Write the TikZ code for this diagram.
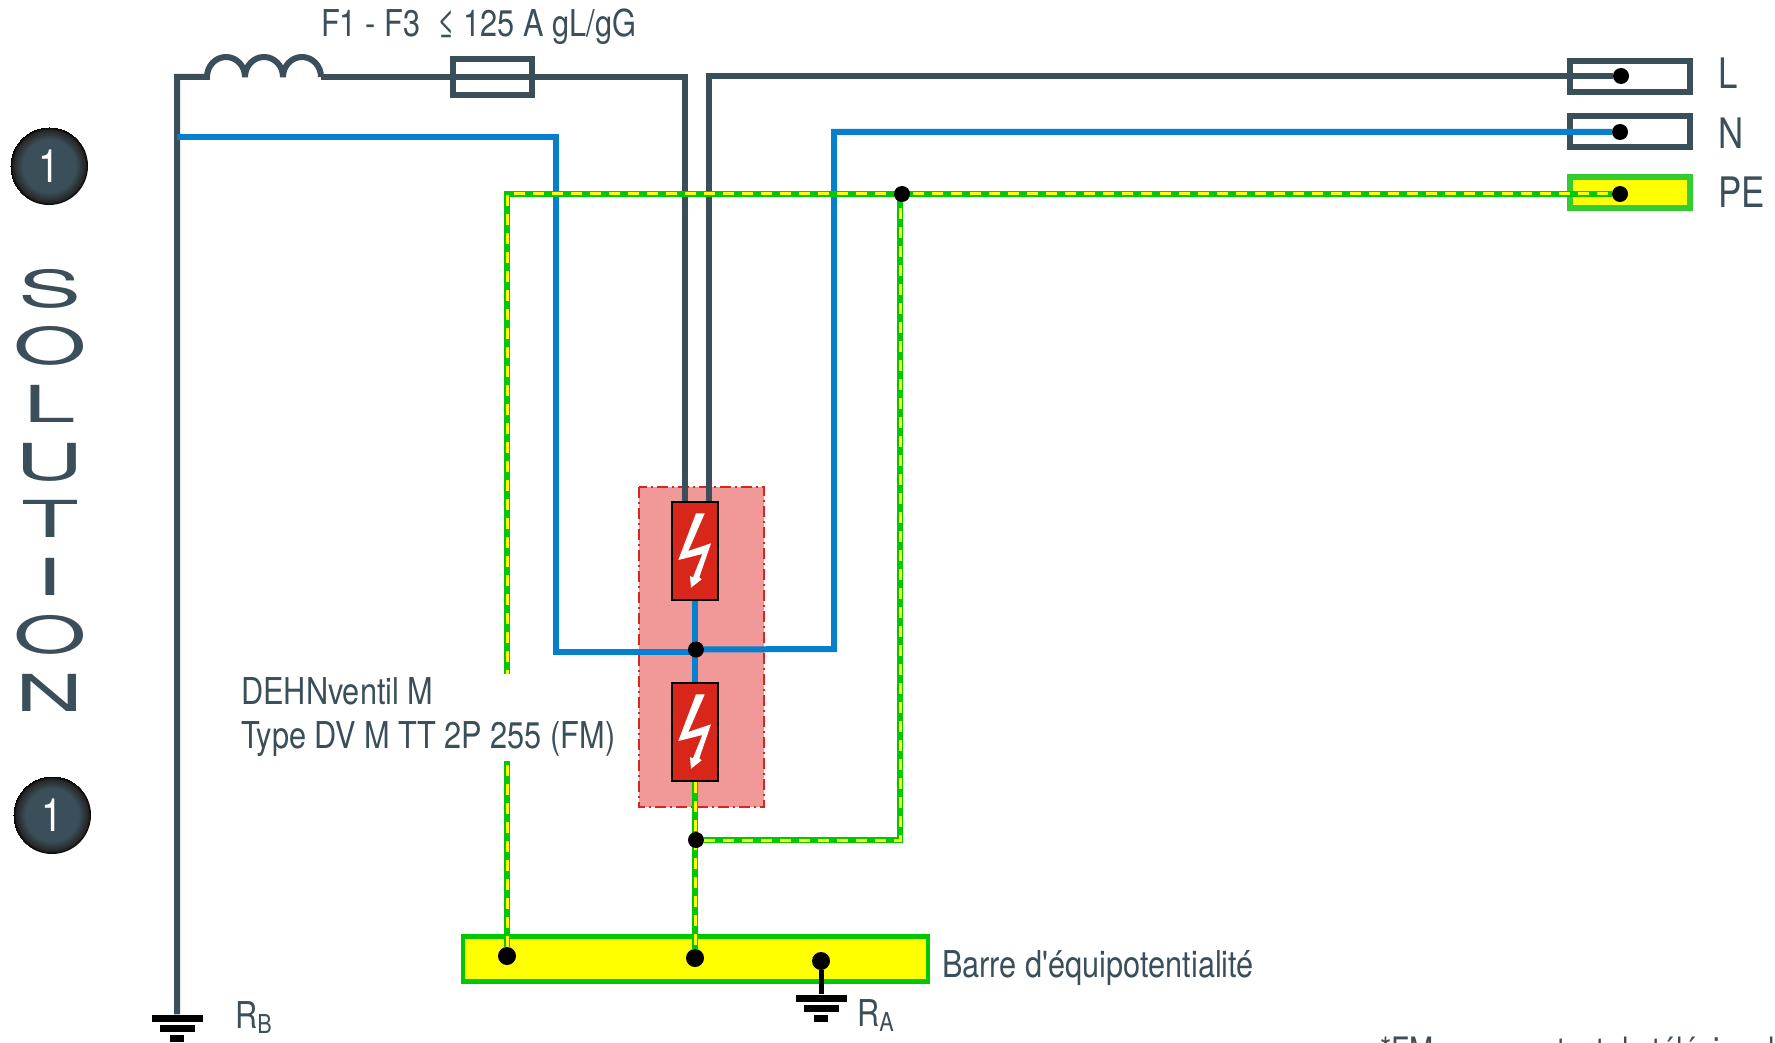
\documentclass[tikz,border=0pt]{standalone}
\usepackage{fontspec}
\setmainfont{TeX Gyre Heros}
\newfontfamily\labelfont[FakeStretch=0.83]{TeX Gyre Heros}
\newfontfamily\widefont[FakeStretch=1.85]{TeX Gyre Heros}
\usetikzlibrary{positioning}
\definecolor{wiredark}{HTML}{3A4F59}
\definecolor{wireblue}{HTML}{0680CC}
\definecolor{wiregreen}{HTML}{00C800}
\definecolor{boxgreen}{HTML}{33CC33}
\definecolor{zonered}{HTML}{F19899}
\definecolor{devred}{HTML}{D8261A}
\definecolor{peyellow}{rgb}{1,1,0}
\pgfdeclarelayer{base}
\pgfdeclarelayer{wires}
\pgfsetlayers{base,wires,main}
\pgfdeclareradialshading{badgeball}{\pgfpoint{0bp}{0bp}}{color(0bp)=(wiredark);color(17bp)=(wiredark);color(23bp)=(black!85);color(25bp)=(black)}
\tikzstyle{darkwire} = [draw=wiredark, line width=6pt]
\tikzstyle{bluewire} = [draw=wireblue, line width=6pt]
\tikzstyle{pewire} = [draw=wiregreen, line width=6pt,
                     postaction={draw=peyellow, line width=3pt, dash pattern=on 11pt off 8pt}]
\tikzstyle{junction} = [circle, fill=black, inner sep=0pt, minimum size=16pt]
\tikzstyle{barjunction} = [junction, minimum size=18pt]
\tikzstyle{terminal} = [rectangle, draw=wiredark, line width=6pt, inner sep=0pt,
                       minimum width=120pt, minimum height=31pt]
\tikzstyle{device} = [rectangle, draw=black, fill=devred, line width=2pt, inner sep=0pt,
                     minimum width=46pt, minimum height=98pt]
\tikzstyle{gndbar} = [rectangle, fill=black, inner sep=0pt, minimum height=7pt]
\tikzstyle{txt} = [inner sep=0pt, text=wiredark, anchor=base west,
                  font=\labelfont\fontsize{37}{44}\selectfont]
\tikzstyle{termtxt} = [txt, font=\labelfont\fontsize{42}{44}\selectfont]
\tikzstyle{badge} = [circle, inner sep=0pt, minimum size=78pt, shading=badgeball, text=white,
                    font=\labelfont\fontsize{46}{46}\selectfont]
\newcommand{\subtxt}[1]{\raisebox{-5pt}{\fontsize{26}{26}\selectfont #1}}
\newcommand{\boltshape}[1]{\fill[white, shift={(#1.center)}] (1,-37.7) -- (9.7,-37.7) -- (-6.7,0)
  -- (16,-7.7) -- (4.3,26.3) -- (6.7,28.3) -- (-4,36.7) -- (-5,25) -- (-2,26.3) -- (7.3,3)
  -- (-16.7,9) -- cycle;}
\begin{document}
\begin{tikzpicture}[x=1pt, y=-1pt, node distance=3pt]
    \useasboundingbox (0,0) rectangle (1775,1043);
    \begin{pgfonlayer}{base}
    % surge protection zone
    \path[fill=zonered] (639,487) rectangle (764,807);
    \draw[devred, line width=2.5pt, dash pattern=on 11pt off 4pt on 2pt off 4pt] (639,487) rectangle (764,807);
    % terminals
    \node (boxL) at (1630,76.5) [terminal] {};
    \node (boxN) [below=18pt of boxL, terminal] {};
    \node (boxPE) [below=24pt of boxN, terminal, draw=boxgreen, fill=peyellow] {};
    % equipotential bar
    \node (bar) at (695.5,959) [rectangle, draw=wiregreen, fill=peyellow, line width=4.5pt, inner sep=0pt,
        minimum width=465pt, minimum height=45pt] {};
    \node (fuse) at (492.5,77) [rectangle, draw=wiredark, line width=6pt, inner sep=0pt,
        minimum width=79pt, minimum height=36pt] {};
    \end{pgfonlayer}
    % coordinates of the wires
    \coordinate (cornerTL) at (177,77);
    \coordinate (coilIn) at (207,77);
    \coordinate (coilOut) at (321,77);
    \coordinate (cornerF) at (685,77);
    \coordinate (cornerL) at (709,76);
    \coordinate (blueL) at (177,137);
    \coordinate (blueA) at (556,137);
    \coordinate (blueB) at (556,652);
    \coordinate (blueC) at (834,132);
    \coordinate (blueD) at (834,649);
    \coordinate (peC) at (900,840);
    % devices
    \node (dev1) at (695,551) [device] {};
    \node (dev2) at (695,732) [device] {};
    \boltshape{dev1}
    \boltshape{dev2}
    % junctions
    \node (dotL) at (1621,76) [junction] {};
    \node (dotN) at (1620,132) [junction] {};
    \node (dotPE) at (1620,194) [junction] {};
    \node (dotJ) at (902,194) [junction] {};
    \node (dotMid) at (696,649.5) [junction] {};
    \node (dotLow) at (696,840) [junction] {};
    \node (dotBarL) at (507,956) [barjunction] {};
    \node (dotBarM) at (695,958) [barjunction] {};
    \node (dotBarR) at (821,961) [barjunction] {};
    % earth symbols
    \node (gndB1) at (177,1018) [gndbar, minimum width=51pt] {};
    \node (gndB2) [below=of gndB1, gndbar, minimum width=35pt] {};
    \node (gndB3) [below=of gndB2, gndbar, minimum width=14pt] {};
    \node (gndA1) at (821,998) [gndbar, minimum width=51pt] {};
    \node (gndA2) [below=of gndA1, gndbar, minimum width=35pt] {};
    \node (gndA3) [below=of gndA2, gndbar, minimum width=14pt] {};
    % wires
    \begin{pgfonlayer}{wires}
    \draw[darkwire] (gndB1) -- (cornerTL) -- (coilIn)
        arc[start angle=180, end angle=0, x radius=19pt, y radius=20pt]
        arc[start angle=180, end angle=0, x radius=19pt, y radius=20pt]
        arc[start angle=180, end angle=0, x radius=19pt, y radius=20pt] -- (coilOut);
    \draw[darkwire] (coilOut) -- (fuse.center) -- (cornerF) -- (dev1.north -| cornerF);
    \draw[darkwire] (dotL) -- (cornerL) -- (dev1.north -| cornerL);
    \draw[bluewire] (blueL) -- (blueA) -- (blueB) -- (blueB -| dotMid);
    \draw[bluewire] (dotN) -- (blueC) -- (blueD) -- (dotMid);
    \draw[bluewire] (dev1) -- (dev2);
    \draw[pewire] (dotBarL) |- (dotPE);
    \draw[pewire] (dotLow) -- (peC) -- (peC |- dotJ);
    \draw[pewire] (dev2) -- (dotBarM);
    \draw[draw=black, line width=5pt] (dotBarR) -- (gndA1);
    \end{pgfonlayer}
    % texts
    \node (lblL) at (1718,89) [termtxt] {L};
    \node (lblN) at (1718,149) [termtxt] {N};
    \node (lblPE) at (1718,208) [termtxt] {PE};
    \node (lblFuse) at (321,37) [txt] {F1 - F3\ \ ≤ 125 A gL/gG};
    \node (lblDev) at (241,717.5) [txt, anchor=west, fill=white, inner ysep=4pt, align=left]
        {DEHNventil M\\Type DV M TT 2P 255 (FM)};
    \node (lblBar) at (942,977) [txt] {Barre d'équipotentialité};
    \node (lblRB) at (235,1028) [txt] {R\subtxt{B}};
    \node (lblRA) at (857,1026) [txt] {R\subtxt{A}};
    \node (lblNote) at (1380,1062.5) [txt, font=\labelfont\fontsize{35}{35}\selectfont] {*FM =\hspace{44pt} contact de télésignalisation};
    % left column
    \node (badge1) at (49,166) [badge] {1};
    \node (badge2) at (52,815) [badge] {1};
    \node (lblSol) at (50,490) [inner sep=0pt, text=wiredark, align=center,
        font=\widefont\fontsize{51}{57.7}\selectfont] {S\\O\\L\\U\\T\\I\\O\\N};
\end{tikzpicture}
\end{document}
